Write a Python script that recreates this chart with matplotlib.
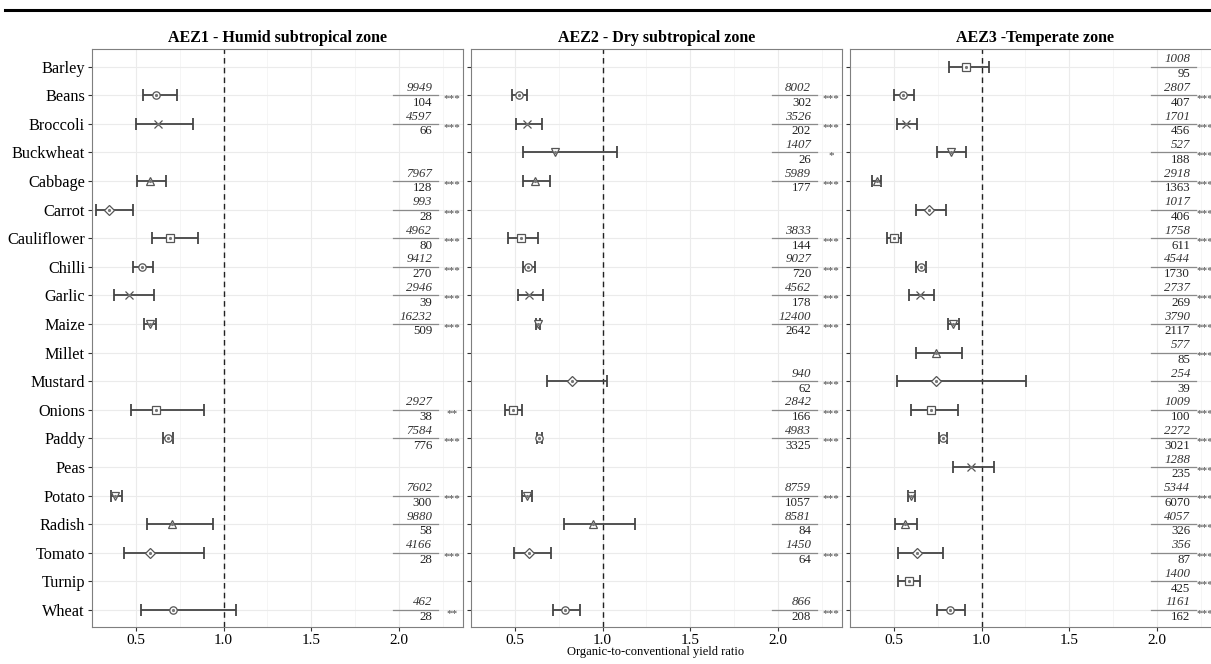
import numpy as np
import matplotlib
matplotlib.use('Agg')
import matplotlib.pyplot as plt
from matplotlib.lines import Line2D

plt.rcParams['font.family'] = ['Liberation Serif', 'DejaVu Serif']

crops = ['Barley', 'Beans', 'Broccoli', 'Buckwheat', 'Cabbage', 'Carrot', 'Cauliflower',
         'Chilli', 'Garlic', 'Maize', 'Millet', 'Mustard', 'Onions', 'Paddy', 'Peas',
         'Potato', 'Radish', 'Tomato', 'Turnip', 'Wheat']

titles = ['AEZ1 - Humid subtropical zone', 'AEZ2 - Dry subtropical zone', 'AEZ3 -Temperate zone']

nan = np.nan

# AEZ1 - humid subtropical
aez1_est = [nan, 0.614, 0.626, nan, 0.578, 0.346, 0.696, 0.534, 0.462, 0.578,
            nan, nan, 0.614, 0.683, nan, 0.383, 0.703, 0.582, nan, 0.710]
aez1_lo = [nan, 0.538, 0.500, nan, 0.504, 0.269, 0.589, 0.483, 0.374, 0.543,
           nan, nan, 0.471, 0.654, nan, 0.357, 0.563, 0.431, nan, 0.529]
aez1_hi = [nan, 0.732, 0.827, nan, 0.673, 0.481, 0.854, 0.599, 0.603, 0.614,
           nan, nan, 0.889, 0.713, nan, 0.418, 0.940, 0.889, nan, 1.071]
aez1_obs = ['', '9949', '4597', '', '7967', '993', '4962', '9412', '2946', '16232',
            '', '', '2927', '7584', '', '7602', '9880', '4166', '', '462']
aez1_n = ['', '104', '66', '', '128', '28', '80', '270', '39', '509',
          '', '', '38', '776', '', '300', '58', '28', '', '28']
aez1_sig = ['', '***', '***', '', '***', '***', '***', '***', '***', '***',
            '', '', '**', '***', '', '***', '', '***', '', '**']

# AEZ2 - dry subtropical
aez2_est = [nan, 0.525, 0.569, 0.727, 0.614, nan, 0.532, 0.576, 0.578, 0.634,
            nan, 0.824, 0.487, 0.638, nan, 0.569, 0.944, 0.582, nan, 0.788]
aez2_lo = [nan, 0.485, 0.506, 0.546, 0.544, nan, 0.462, 0.544, 0.515, 0.622,
           nan, 0.681, 0.441, 0.624, nan, 0.542, 0.782, 0.494, nan, 0.715]
aez2_hi = [nan, 0.569, 0.656, 1.083, 0.700, nan, 0.631, 0.616, 0.662, 0.645,
           nan, 1.027, 0.540, 0.653, nan, 0.595, 1.184, 0.706, nan, 0.871]
aez2_obs = ['', '8002', '3526', '1407', '5989', '', '3833', '9027', '4562', '12400',
            '', '940', '2842', '4983', '', '8759', '8581', '1450', '', '866']
aez2_n = ['', '302', '202', '26', '177', '', '144', '720', '178', '2642',
          '', '62', '166', '3325', '', '1057', '84', '64', '', '208']
aez2_sig = ['', '***', '***', '*', '***', '', '***', '***', '***', '***',
            '', '***', '***', '***', '', '***', '', '***', '', '***']

# AEZ3 - temperate
aez3_est = [0.911, 0.553, 0.569, 0.828, 0.401, 0.702, 0.498, 0.653, 0.649, 0.839,
            0.740, 0.740, 0.710, 0.778, 0.942, 0.599, 0.563, 0.631, 0.584, 0.820]
aez3_lo = [0.813, 0.500, 0.515, 0.748, 0.374, 0.626, 0.458, 0.626, 0.584, 0.809,
           0.628, 0.515, 0.597, 0.757, 0.835, 0.582, 0.506, 0.523, 0.525, 0.748]
aez3_hi = [1.043, 0.616, 0.631, 0.911, 0.428, 0.794, 0.542, 0.683, 0.731, 0.870,
           0.889, 1.251, 0.864, 0.801, 1.068, 0.620, 0.634, 0.778, 0.651, 0.908]
aez3_obs = ['1008', '2807', '1701', '527', '2918', '1017', '1758', '4544', '2737', '3790',
            '577', '254', '1009', '2272', '1288', '5344', '4057', '356', '1400', '1161']
aez3_n = ['95', '407', '456', '188', '1363', '406', '611', '1730', '269', '2117',
          '85', '39', '100', '3021', '235', '6070', '326', '87', '425', '162']
aez3_sig = ['', '***', '***', '***', '***', '***', '***', '***', '***', '***',
            '***', '', '***', '***', '***', '***', '***', '***', '***', '***']

panels = [
    (aez1_est, aez1_lo, aez1_hi, aez1_obs, aez1_n, aez1_sig),
    (aez2_est, aez2_lo, aez2_hi, aez2_obs, aez2_n, aez2_sig),
    (aez3_est, aez3_lo, aez3_hi, aez3_obs, aez3_n, aez3_sig),
]

# shapes cycle through the crops: square, circle, x, triangle down, triangle up, diamond
shape_cycle = ['s', 'o', 'x', 'v', '^', 'D']

fig = plt.figure(figsize=(12.11, 6.64), dpi=100)

# thick rule across the top
fig.add_artist(Line2D([0.004, 1.0], [0.985, 0.985], color='black', lw=2.2))

lefts = [92 / 1211, 471 / 1211, 850 / 1211]
width = 371 / 1211
bottom = 37 / 664
height = 578 / 664

ypos = np.arange(len(crops))
edge = '#7f7f7f'
bar_col = '#444444'
# the last panel runs past the figure edge, so its stars sit a bit further left
star_x = [2.305, 2.305, 2.272]

for k, (est, lo, hi, obs, nstud, sig) in enumerate(panels):
    ax = fig.add_axes([lefts[k], bottom, width, height])
    ax.set_xlim(0.249, 2.366)
    ax.set_ylim(19.6, -0.62)
    ax.set_xticks([0.5, 1.0, 1.5, 2.0])
    ax.set_xticklabels(['0.5', '1.0', '1.5', '2.0'], fontsize=11)
    ax.set_xticks([0.75, 1.25, 1.75, 2.25], minor=True)
    ax.set_yticks(ypos)
    if k == 0:
        ax.set_yticklabels(crops, fontsize=11.7)
    else:
        ax.set_yticklabels([])
        ax.tick_params(axis='y', length=0)
    ax.grid(which='major', color='#ebebeb', lw=0.8)
    ax.grid(which='minor', axis='x', color='#f2f2f2', lw=0.5)
    ax.set_axisbelow(True)
    for sp in ax.spines.values():
        sp.set_color(edge)
        sp.set_linewidth(0.8)
    ax.tick_params(axis='both', which='major', color='#333333', length=3, width=0.8, pad=2)
    ax.tick_params(axis='x', which='minor', length=0)

    ax.axvline(1.0, color='#222222', lw=1.0, ls=(0, (4, 3)), zorder=2)

    for i in range(len(crops)):
        if np.isnan(est[i]):
            continue
        ax.errorbar(est[i], i, xerr=[[est[i] - lo[i]], [hi[i] - est[i]]], fmt='none',
                    ecolor=bar_col, elinewidth=1.3, capsize=4, capthick=1.3, zorder=3)
        ax.plot(est[i], i, marker=shape_cycle[i % 6], ms=5.3, mfc='white', mec='#555555',
                mew=0.9, ls='none', zorder=4)
        ax.plot(est[i], i, marker='o', ms=1.3, color='#777777', ls='none', zorder=5)

    for i in range(len(crops)):
        if obs[i]:
            ax.plot([1.965, 2.222], [i, i], color='#8a8a8a', lw=0.9, clip_on=False, zorder=3)
            ax.annotate(obs[i], (2.19, i), xytext=(0, 1), textcoords='offset points',
                        ha='right', va='bottom', fontsize=9.3, style='italic', color='#333333',
                        annotation_clip=False)
            ax.annotate(nstud[i], (2.19, i), xytext=(0, -1), textcoords='offset points',
                        ha='right', va='top', fontsize=9.3, color='#222222',
                        annotation_clip=False)
        if sig[i]:
            ax.annotate(sig[i], (star_x[k], i), xytext=(0, -2.5), textcoords='offset points',
                        ha='center', va='center', fontsize=8, color='#444444',
                        annotation_clip=False)

    ax.set_title(titles[k], fontsize=11.5, fontweight='bold', pad=5)

fig.text(656 / 1211, 6 / 664, 'Organic-to-conventional yield ratio', ha='center', va='bottom',
         fontsize=9)

fig.savefig('out.png', dpi=100)
